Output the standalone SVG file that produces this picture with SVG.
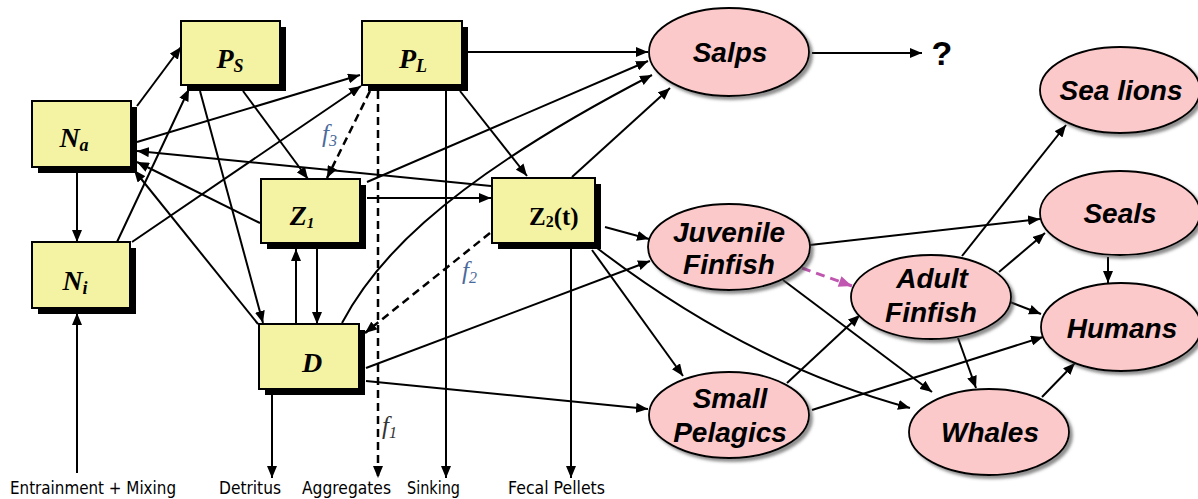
<svg xmlns="http://www.w3.org/2000/svg" width="1198" height="499" viewBox="0 0 1198 499">
<defs>
<style>
.box{fill:#f3f3a3;stroke:#000;stroke-width:2}
.bsh{fill:#000}
.ell{fill:#fbc9c9;stroke:#000;stroke-width:1.8;filter:url(#sh)}
.bl{font-family:"Liberation Serif",serif;font-weight:bold;font-style:italic;font-size:28px;fill:#000}
.el{font-family:"Liberation Sans",Arial,sans-serif;font-weight:bold;font-style:italic;font-size:28px;fill:#000;text-anchor:middle}
.bot{font-family:"DejaVu Sans",sans-serif;font-size:18px;fill:#000}
.fl{font-family:"Liberation Serif",serif;font-style:italic;font-size:25px}
.c{fill:none;stroke:#000;stroke-width:2;marker-end:url(#ah)}
.d{fill:none;stroke:#000;stroke-width:2.5;stroke-dasharray:8 5;marker-end:url(#ah)}
.m{fill:none;stroke:#c056b0;stroke-width:3;stroke-dasharray:9 6;marker-end:url(#ahm)}
</style>
<marker id="ah" viewBox="0 0 12 10" refX="12" refY="5" markerWidth="12" markerHeight="10" markerUnits="userSpaceOnUse" orient="auto"><path d="M0,0 L12,5 L0,10 z" fill="#000"/></marker>
<marker id="ahm" viewBox="0 0 12 10" refX="12" refY="5" markerWidth="14" markerHeight="11" markerUnits="userSpaceOnUse" orient="auto"><path d="M0,0 L12,5 L0,10 z" fill="#c056b0"/></marker>
<filter id="sh" x="-10%" y="-10%" width="125%" height="130%"><feDropShadow dx="3" dy="3" stdDeviation="1.5" flood-color="#444" flood-opacity="0.6"/></filter>
</defs>

<g id="connectors">
<path class="c" d="M137,106 L181,47"/>
<path class="c" d="M137,142 L360,75"/>
<path class="c" d="M491,186 L137,151"/>
<path class="c" d="M260,223 L137,162"/>
<path class="c" d="M258,324 L134,170"/>
<path class="c" d="M77,172 L77,242"/>
<path class="c" d="M117,242 L189,89"/>
<path class="c" d="M132,242 L361,86"/>
<path class="c" d="M77,473 L77,313"/>
<path class="c" d="M200,91 L263,323"/>
<path class="c" d="M243,91 L308,179"/>
<path class="d" d="M370,91 L327,178"/>
<path class="d" d="M378,91 L378,478"/>
<path class="c" d="M446,91 L446,478"/>
<path class="c" d="M460,91 L527,176"/>
<path class="c" d="M468,52 L648,52"/>
<path class="c" d="M367,182 L648,61"/>
<path class="c" d="M342,323 C370,270 430,190 652,75"/>
<path class="c" d="M572,177 L670,88"/>
<path class="c" d="M367,198 L491,198"/>
<path class="c" d="M296,324 L296,249"/>
<path class="c" d="M317,249 L317,324"/>
<path class="d" d="M490,233 L365,333"/>
<path class="c" d="M366,368 L650,261"/>
<path class="c" d="M366,381 L648,409"/>
<path class="c" d="M272,395 L272,478"/>
<path class="c" d="M571,249 L571,478"/>
<path class="c" d="M605,227 L649,239"/>
<path class="c" d="M592,250 L683,376"/>
<path class="c" d="M597,248 Q750,365 910,408"/>
<path class="m" d="M802,268 L852,286"/>
<path class="c" d="M810,245 L1040,219"/>
<path class="c" d="M783,280 L932,392"/>
<path class="c" d="M787,383 L860,315"/>
<path class="c" d="M812,410 L1043,337"/>
<path class="c" d="M962,256 L1066,125"/>
<path class="c" d="M999,272 L1045,233"/>
<path class="c" d="M1010,302 L1041,314"/>
<path class="c" d="M958,338 L976,388"/>
<path class="c" d="M1108,257 L1108,283"/>
<path class="c" d="M1042,397 L1075,363"/>
<path class="c" d="M812,53 L922,53"/>
</g>

<g id="PS"><rect class="bsh" x="187" y="27" width="99" height="64"/><rect class="box" x="181" y="21" width="99" height="64"/><text class="bl" x="230" y="68" text-anchor="middle">P<tspan font-size="18" dy="4">S</tspan></text></g>
<g id="PL"><rect class="bsh" x="368" y="27" width="100" height="64"/><rect class="box" x="362" y="21" width="100" height="64"/><text class="bl" x="413" y="68" text-anchor="middle">P<tspan font-size="18" dy="4">L</tspan></text></g>
<g id="Na"><rect class="bsh" x="38" y="107" width="99" height="66"/><rect class="box" x="32" y="101" width="99" height="66"/><text class="bl" x="74" y="147" text-anchor="middle">N<tspan font-size="18" dy="4">a</tspan></text></g>
<g id="Ni"><rect class="bsh" x="38" y="248" width="98" height="66"/><rect class="box" x="32" y="242" width="98" height="66"/><text class="bl" x="75" y="290" text-anchor="middle">N<tspan font-size="18" dy="4">i</tspan></text></g>
<g id="Z1"><rect class="bsh" x="267" y="185" width="99" height="64"/><rect class="box" x="261" y="179" width="99" height="64"/><text class="bl" x="302" y="225" text-anchor="middle" font-size="22">Z<tspan font-size="15" dy="3">1</tspan></text></g>
<g id="Z2"><rect class="bsh" x="498" y="184" width="103" height="65"/><rect class="box" x="492" y="178" width="103" height="65"/><text x="529" y="225" font-family="Liberation Serif,serif" font-weight="bold" font-size="25">Z<tspan font-size="16" dy="2">2</tspan><tspan dy="-2">(t)</tspan></text></g>
<g id="D"><rect class="bsh" x="265" y="330" width="100" height="65"/><rect class="box" x="259" y="324" width="100" height="65"/><text class="bl" x="312" y="372" text-anchor="middle">D</text></g>

<g id="Salps"><ellipse class="ell" cx="729" cy="52" rx="80" ry="44"/><text class="el" x="730" y="62">Salps</text></g>
<g id="question"><text x="942" y="65" font-family="Liberation Sans,Arial,sans-serif" font-weight="bold" font-size="34" text-anchor="middle">?</text></g>
<g id="Juvenile"><ellipse class="ell" cx="729" cy="247" rx="81" ry="43"/><text class="el" x="729" y="242">Juvenile</text><text class="el" x="729" y="274">Finfish</text></g>
<g id="Small"><ellipse class="ell" cx="729" cy="415" rx="80" ry="43"/><text class="el" x="730" y="408">Small</text><text class="el" x="730" y="442">Pelagics</text></g>
<g id="Adult"><ellipse class="ell" cx="931" cy="297" rx="80" ry="42"/><text class="el" x="932" y="288">Adult</text><text class="el" x="931" y="322">Finfish</text></g>
<g id="Whales"><ellipse class="ell" cx="989" cy="432" rx="80" ry="43"/><text class="el" x="990" y="442">Whales</text></g>
<g id="SeaLions"><ellipse class="ell" cx="1120" cy="90" rx="80" ry="43"/><text class="el" x="1121" y="100">Sea lions</text></g>
<g id="Seals"><ellipse class="ell" cx="1120" cy="213" rx="80" ry="42"/><text class="el" x="1120" y="223">Seals</text></g>
<g id="Humans"><ellipse class="ell" cx="1121" cy="327" rx="80" ry="44"/><text class="el" x="1122" y="338">Humans</text></g>

<g id="flabels">
<text class="fl" x="322" y="142" fill="#4b6a9b">f<tspan font-size="16" dy="4">3</tspan></text>
<text class="fl" x="462" y="279" fill="#4b6a9b">f<tspan font-size="16" dy="4">2</tspan></text>
<text class="fl" x="382" y="434" fill="#333">f<tspan font-size="16" dy="4">1</tspan></text>
</g>

<g id="bottomlabels">
<text class="bot" x="10" y="494" textLength="166" lengthAdjust="spacingAndGlyphs">Entrainment + Mixing</text>
<text class="bot" x="219" y="494" textLength="62" lengthAdjust="spacingAndGlyphs">Detritus</text>
<text class="bot" x="302" y="494" textLength="89" lengthAdjust="spacingAndGlyphs">Aggregates</text>
<text class="bot" x="407" y="494" textLength="53" lengthAdjust="spacingAndGlyphs">Sinking</text>
<text class="bot" x="508" y="494" textLength="97" lengthAdjust="spacingAndGlyphs">Fecal Pellets</text>
</g>
</svg>
